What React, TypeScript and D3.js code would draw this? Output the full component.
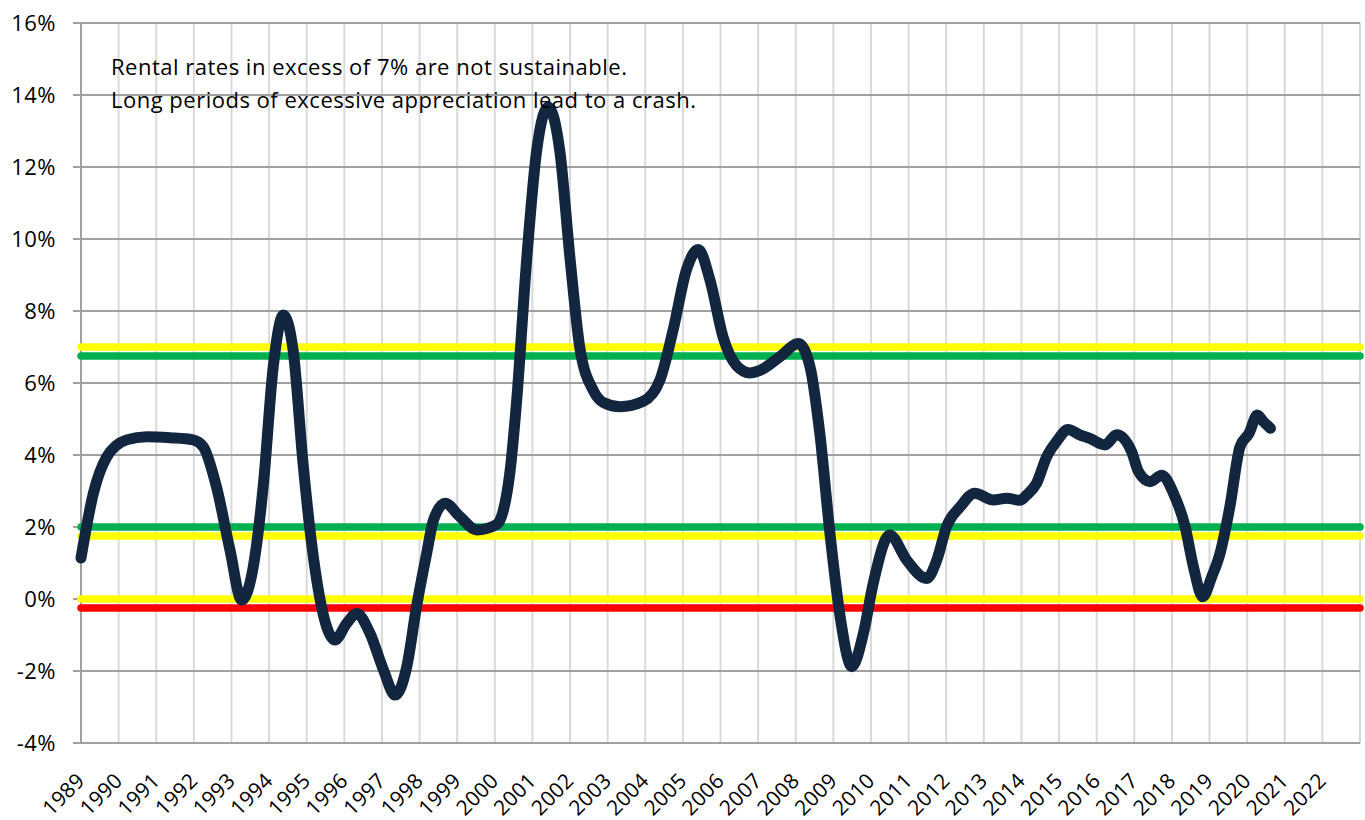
import * as d3 from 'd3';
import { useEffect, useRef } from 'react';

// year (fractional) and annual rental rate change (%)
const years = [
  1989.0, 1989.33, 1989.68, 1990.21, 1990.75, 1991.37, 1991.98, 1992.25, 1992.6, 1992.96,
  1993.27, 1993.58, 1993.85, 1994.11, 1994.38, 1994.64, 1994.9, 1995.1, 1995.27, 1995.53,
  1995.75, 1996.06, 1996.33, 1996.68, 1997.04, 1997.35, 1997.66, 1997.92, 1998.19, 1998.37,
  1998.68, 1999.07, 1999.52, 2000.05, 2000.4, 2000.58, 2000.85, 2001.11, 2001.42, 2001.73,
  2002.0, 2002.26, 2002.62, 2002.9, 2003.33, 2003.95, 2004.39, 2004.74, 2005.1, 2005.41,
  2005.72, 2006.07, 2006.43, 2006.78, 2007.05, 2007.58, 2008.07, 2008.38, 2008.64, 2008.91,
  2009.18, 2009.49, 2009.8, 2010.06, 2010.5, 2010.95, 2011.48, 2011.75, 2012.01, 2012.37,
  2012.76, 2013.25, 2013.61, 2013.96, 2014.14, 2014.4, 2014.67, 2014.93, 2015.24, 2015.55,
  2015.82, 2016.22, 2016.53, 2016.93, 2017.11, 2017.42, 2017.73, 2018.04, 2018.35, 2018.57,
  2018.82, 2019.06, 2019.28, 2019.54, 2019.81, 2020.05, 2020.27, 2020.43, 2020.62,
];
const rates = [
  1.14, 2.94, 3.94, 4.42, 4.51, 4.48, 4.42, 4.23, 3.12, 1.36,
  -0.03, 0.9, 3.2, 6.45, 7.89, 6.9, 3.8, 1.8, 0.5, -0.77,
  -1.14, -0.68, -0.4, -0.95, -1.97, -2.67, -1.88, -0.21, 1.27, 2.19,
  2.66, 2.29, 1.92, 2.07, 3.5, 5.49, 9.46, 12.43, 13.67, 12.43,
  9.46, 6.98, 5.79, 5.45, 5.34, 5.49, 6.08, 7.47, 9.16, 9.71,
  8.86, 7.27, 6.48, 6.28, 6.35, 6.73, 7.1, 6.45, 4.6, 1.82,
  -0.49, -1.88, -0.95, 0.44, 1.78, 1.08, 0.57, 1.08, 2.01, 2.56,
  2.94, 2.75, 2.8, 2.74, 2.89, 3.21, 3.95, 4.37, 4.71, 4.56,
  4.46, 4.28, 4.56, 4.09, 3.54, 3.26, 3.44, 2.94, 2.01, 0.9,
  0.06, 0.62, 1.27, 2.56, 4.23, 4.6, 5.11, 4.93, 4.74,
];

const yearLabels = [
  1989, 1990, 1991, 1992, 1993, 1994, 1995, 1996, 1997, 1998, 1999, 2000,
  2001, 2002, 2003, 2004, 2005, 2006, 2007, 2008, 2009, 2010, 2011, 2012,
  2013, 2014, 2015, 2016, 2017, 2018, 2019, 2020, 2021, 2022,
];
const gridYears = [...yearLabels, 2023];
const yTicks = [-4, -2, 0, 2, 4, 6, 8, 10, 12, 14, 16];

// threshold bands
const bandValues = [7, 6.75, 2, 1.75, 0, -0.25];
const bandColors = ['#ffff00', '#00b050', '#00b050', '#ffff00', '#ffff00', '#ff0000'];

const notes = [
  'Rental rates in excess of 7% are not sustainable.',
  'Long periods of excessive appreciation lead to a crash.',
];

const FONT = '"Open Sans", Lato, sans-serif';

const App = () => {
  const svgRef = useRef(null);

  useEffect(() => {
    const svg = d3.select(svgRef.current);
    svg.selectAll('*').remove();

    const x = d3.scaleLinear().domain([1989, 2023]).range([81, 1360]);
    const y = d3.scaleLinear().domain([-4, 16]).range([743, 23]);

    // vertical grid
    svg.append('g')
      .selectAll('line')
      .data(gridYears)
      .enter().append('line')
      .attr('x1', d => x(d)).attr('x2', d => x(d))
      .attr('y1', y(16)).attr('y2', y(-4))
      .attr('stroke', '#d9d9d9')
      .attr('stroke-width', 2);

    // horizontal grid + ticks
    svg.append('g')
      .selectAll('line')
      .data(yTicks)
      .enter().append('line')
      .attr('x1', 73).attr('x2', x(2023))
      .attr('y1', d => y(d)).attr('y2', d => y(d))
      .attr('stroke', '#a0a0a0')
      .attr('stroke-width', 2);

    // left axis line
    svg.append('line')
      .attr('x1', x(1989)).attr('x2', x(1989))
      .attr('y1', y(16)).attr('y2', y(-4))
      .attr('stroke', '#a0a0a0')
      .attr('stroke-width', 2);

    // y labels
    svg.append('g')
      .selectAll('text')
      .data(yTicks)
      .enter().append('text')
      .attr('x', 56)
      .attr('y', d => y(d) + 8)
      .attr('text-anchor', 'end')
      .attr('font-family', FONT)
      .attr('font-size', 22)
      .attr('letter-spacing', 0.5)
      .attr('fill', '#000')
      .text(d => `${d}%`);

    // x labels
    svg.append('g')
      .selectAll('text')
      .data(yearLabels)
      .enter().append('text')
      .attr('transform', d => `translate(${x(d) + 5}, 782) rotate(-45)`)
      .attr('text-anchor', 'end')
      .attr('font-family', FONT)
      .attr('font-size', 21)
      .attr('letter-spacing', 0.3)
      .attr('fill', '#000')
      .text(d => d);

    // bands
    svg.append('g')
      .selectAll('line')
      .data(bandValues)
      .enter().append('line')
      .attr('x1', x(1989)).attr('x2', x(2023))
      .attr('y1', d => y(d)).attr('y2', d => y(d))
      .attr('stroke', (d, i) => bandColors[i])
      .attr('stroke-width', 7.5)
      .attr('stroke-linecap', 'round');

    // series
    const points = years.map((yr, i) => [yr, rates[i]]);
    const line = d3.line()
      .x(d => x(d[0]))
      .y(d => y(d[1]))
      .curve(d3.curveMonotoneX);

    svg.append('path')
      .datum(points)
      .attr('d', line)
      .attr('fill', 'none')
      .attr('stroke', '#132640')
      .attr('stroke-width', 11)
      .attr('stroke-linejoin', 'round')
      .attr('stroke-linecap', 'round');

    // annotation
    svg.append('g')
      .selectAll('text')
      .data(notes)
      .enter().append('text')
      .attr('x', 111)
      .attr('y', (d, i) => 75 + i * 33)
      .attr('font-family', FONT)
      .attr('font-size', 22)
      .attr('letter-spacing', 0.5)
      .attr('fill', '#000')
      .text(d => d);
  }, []);

  return (
    <svg
      ref={svgRef}
      width="1365"
      height="820"
      style={{ position: 'absolute', left: 0, top: 0, background: '#fff' }}
    ></svg>
  );
};

export default App;
